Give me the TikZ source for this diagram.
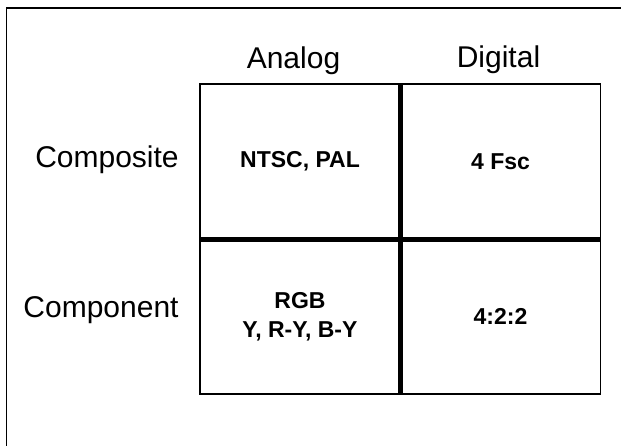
\documentclass[tikz,border=0pt]{standalone}
\usepackage{fontspec}
\setmainfont{Liberation Sans}
\usetikzlibrary{positioning}
\tikzstyle{cell}=[draw=black, line width=1.6pt, minimum width=200pt, minimum height=155pt, inner sep=0pt, align=center, font=\fontsize{23}{29}\selectfont\bfseries]
\tikzstyle{head}=[anchor=base, inner sep=0pt, font=\fontsize{30}{34}\selectfont]
\tikzstyle{divider}=[line width=5pt]

\begin{document}
\begin{tikzpicture}[x=1pt, y=-1pt]
    \useasboundingbox (0,0) rectangle (621,445);

%Frame
    \draw[line width=1.4pt] (6.5,460) rectangle (640,8);

%Cells
    \foreach \pos/\name/\label in {{(300,161.5)/a1/{NTSC, PAL}}, {(500.5,161.5)/d1/{4 Fsc}}, {(300,316.5)/a2/{RGB\\Y, R-Y, B-Y}}, {(500.5,316.5)/d2/{4:2:2}}}
        \node[cell] (\name) at \pos {\label};

%Headings
    \foreach \pos/\name/\label in {{(293.5,68)/analog/Analog}, {(498.5,67)/digital/Digital}, {(107,167)/composite/Composite}, {(101,317)/component/Component}}
        \node[head] (\name) at \pos {\label};

%Dividers
    \draw[divider] (a1.north east) -- (a2.south east);
    \draw[divider] (a1.south west) -- (d1.south east);

\end{tikzpicture}
\end{document}
